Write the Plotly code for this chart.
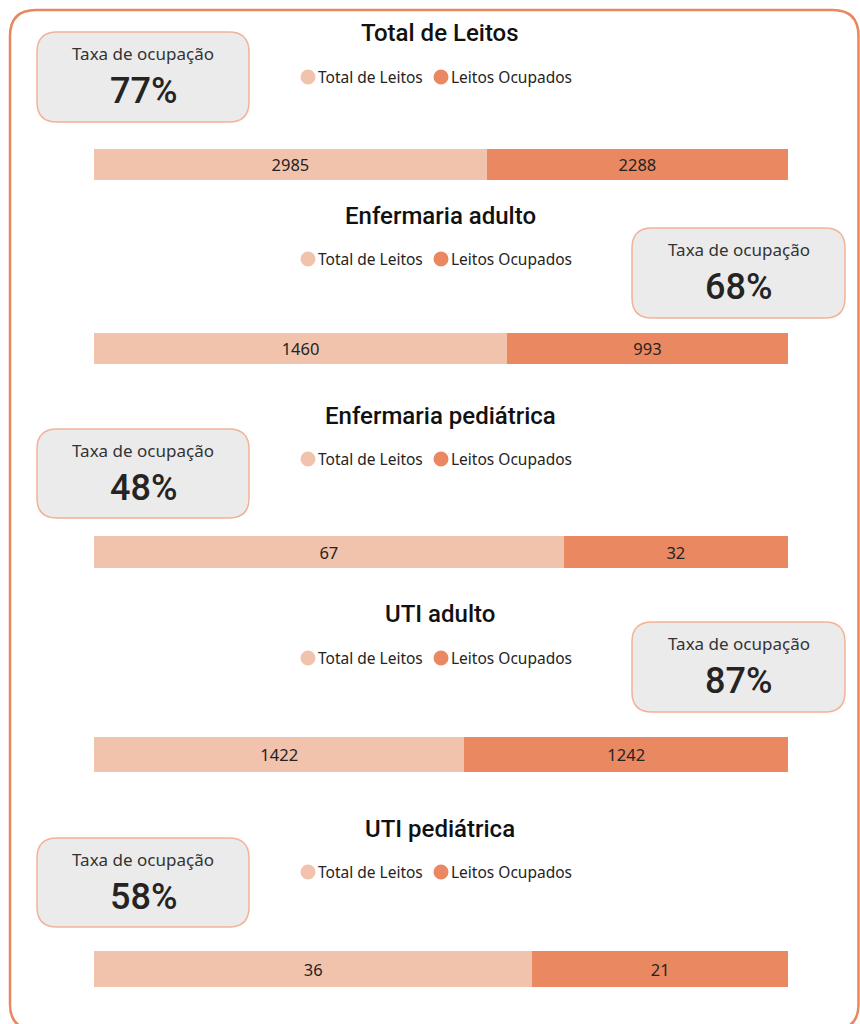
import plotly.graph_objects as go

# ---------------- data ----------------
panels = ["Total de Leitos", "Enfermaria adulto", "Enfermaria pediátrica", "UTI adulto", "UTI pediátrica"]
total_leitos = [2985, 1460, 67, 1422, 36]
leitos_ocupados = [2288, 993, 32, 1242, 21]
series_names = ["Total de Leitos", "Leitos Ocupados"]
card_label = "Taxa de ocupação"
taxa_ocupacao = [round(o / t * 100) for o, t in zip(leitos_ocupados, total_leitos)]

# ---------------- layout constants (pixels) ----------------
W, H = 860, 1024
LIGHT = "#F1C3AC"
DARK = "#E98861"
TXT = "#252423"
bar_x = (94, 788)
bar_y = [(149, 180), (333, 364), (536, 568), (737, 772), (951, 987)]
title_y = [33, 216, 416, 614, 829]
legend_y = [77, 259, 459, 658, 872]
card_side = ["left", "right", "left", "right", "left"]
card_y = [(32, 122), (228, 318), (429, 518), (622, 712), (838, 927)]
card_x = {"left": (37, 249), "right": (632, 845)}


def px(x):
    return x / W


def py(y):
    return 1 - y / H


def rrect(x0, y0, x1, y1, r):
    pts = [
        f"M {px(x0 + r)},{py(y0)}", f"L {px(x1 - r)},{py(y0)}",
        f"Q {px(x1)},{py(y0)} {px(x1)},{py(y0 + r)}", f"L {px(x1)},{py(y1 - r)}",
        f"Q {px(x1)},{py(y1)} {px(x1 - r)},{py(y1)}", f"L {px(x0 + r)},{py(y1)}",
        f"Q {px(x0)},{py(y1)} {px(x0)},{py(y1 - r)}", f"L {px(x0)},{py(y0 + r)}",
        f"Q {px(x0)},{py(y0)} {px(x0 + r)},{py(y0)}", "Z",
    ]
    return " ".join(pts)


fig = go.Figure()
annotations = []
shapes = []

# outer border
shapes.append(dict(type="path", xref="paper", yref="paper",
                   path=rrect(10, 10, 858.5, 1030, 26),
                   line=dict(color="#E9875F", width=2.5), fillcolor="rgba(0,0,0,0)", layer="below"))

layout_axes = {}
for i, name in enumerate(panels):
    k = "" if i == 0 else str(i + 1)
    xa, ya = "x" + k, "y" + k
    vals = [total_leitos[i], leitos_ocupados[i]]
    cols = [LIGHT, DARK]
    for s, v, c in zip(series_names, vals, cols):
        fig.add_trace(go.Bar(
            x=[v], y=[name], orientation="h", name=s, xaxis=xa, yaxis=ya,
            marker=dict(color=c, line=dict(width=0)), width=1,
            text=[str(v)], texttemplate="%{text}", textposition="inside",
            insidetextanchor="middle", textangle=0,
            textfont=dict(family="Noto Sans", size=16.5, color=TXT),
            showlegend=False, hovertemplate=s + ": %{text}<extra></extra>",
        ))
    y0, y1 = bar_y[i]
    layout_axes["xaxis" + k] = dict(domain=[px(bar_x[0]), px(bar_x[1])], range=[0, 100],
                                    visible=False, anchor=ya, fixedrange=True)
    layout_axes["yaxis" + k] = dict(domain=[py(y1), py(y0)], range=[-0.5, 0.5],
                                    visible=False, anchor=xa, fixedrange=True)

    # title
    annotations.append(dict(text=name, x=px(440), y=py(title_y[i]), xref="paper", yref="paper",
                            showarrow=False, xanchor="center", yanchor="middle",
                            font=dict(family="Roboto", size=24, weight=500, color="#111111")))
    # legend (circles + text)
    ly = legend_y[i]
    for cx, tx, s, c in [(308, 316, series_names[0], LIGHT), (441, 449, series_names[1], DARK)]:
        shapes.append(dict(type="circle", xref="paper", yref="paper",
                           x0=px(cx - 7.5), x1=px(cx + 7.5), y0=py(ly + 7.5), y1=py(ly - 7.5),
                           fillcolor=c, line=dict(width=0)))
        annotations.append(dict(text=s, x=px(tx), y=py(ly), xref="paper", yref="paper",
                                showarrow=False, xanchor="left", yanchor="middle",
                                font=dict(family="Noto Sans", size=15.5, color=TXT)))
    # card
    cx0, cx1 = card_x[card_side[i]]
    cy0, cy1 = card_y[i]
    shapes.append(dict(type="path", xref="paper", yref="paper", path=rrect(cx0, cy0, cx1, cy1, 20),
                       fillcolor="#EBEBEB", line=dict(color="#F2B395", width=1.5), layer="below"))
    ccx = (cx0 + cx1) / 2
    annotations.append(dict(text=card_label, x=px(ccx), y=py(cy0 + 21), xref="paper", yref="paper",
                            showarrow=False, xanchor="center", yanchor="middle",
                            font=dict(family="Noto Sans", size=17, color="#333333")))
    annotations.append(dict(text=f"{taxa_ocupacao[i]}%", x=px(ccx), y=py(cy0 + 59), xref="paper", yref="paper",
                            showarrow=False, xanchor="center", yanchor="middle",
                            font=dict(family="Roboto", size=36, weight=500, color=TXT)))

fig.update_layout(
    width=W, height=H, margin=dict(l=0, r=0, t=0, b=0),
    paper_bgcolor="white", plot_bgcolor="rgba(0,0,0,0)",
    barmode="stack", barnorm="percent", showlegend=False,
    annotations=annotations, shapes=shapes, **layout_axes,
)

fig.write_html("out.html", config={"displayModeBar": False},
               post_script="document.body.style.margin='0';")
